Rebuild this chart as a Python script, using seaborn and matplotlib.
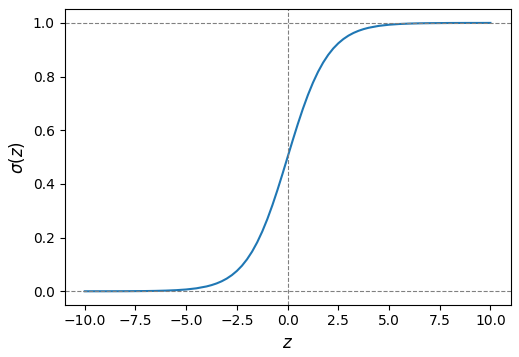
import matplotlib
matplotlib.use("Agg")
import matplotlib.pyplot as plt
import seaborn as sns
import pandas as pd

z_left = [-10.0, -9.5, -9.0, -8.5, -8.0, -7.5, -7.0, -6.5, -6.0, -5.5, -5.0, -4.5,
          -4.0, -3.75, -3.5, -3.25, -3.0, -2.75, -2.5, -2.25, -2.0, -1.75, -1.5,
          -1.25, -1.0, -0.75, -0.5, -0.25]
sig_left = [0.0000, 0.0001, 0.0001, 0.0002, 0.0003, 0.0006, 0.0009, 0.0015, 0.0025,
            0.0041, 0.0067, 0.0110, 0.0180, 0.0230, 0.0293, 0.0373, 0.0474, 0.0601,
            0.0759, 0.0953, 0.1192, 0.1480, 0.1824, 0.2227, 0.2689, 0.3208, 0.3775,
            0.4378]
z_mid = [0.0]
sig_mid = [0.5]
z_right = [0.25, 0.5, 0.75, 1.0, 1.25, 1.5, 1.75, 2.0, 2.25, 2.5, 2.75, 3.0, 3.25,
           3.5, 3.75, 4.0, 4.5, 5.0, 5.5, 6.0, 6.5, 7.0, 7.5, 8.0, 8.5, 9.0, 9.5, 10.0]
sig_right = [0.5622, 0.6225, 0.6792, 0.7311, 0.7773, 0.8176, 0.8520, 0.8808, 0.9047,
             0.9241, 0.9399, 0.9526, 0.9627, 0.9707, 0.9770, 0.9820, 0.9890, 0.9933,
             0.9959, 0.9975, 0.9985, 0.9991, 0.9994, 0.9997, 0.9998, 0.9999, 0.9999,
             1.0000]

df = pd.DataFrame({"z": z_left + z_mid + z_right,
                   "sigma": sig_left + sig_mid + sig_right})

fig = plt.figure(figsize=(5.19, 3.57), dpi=100)
ax = fig.add_axes([0.1243, 0.1465, 0.984 - 0.1243, 0.9734 - 0.1465])
sns.lineplot(data=df, x="z", y="sigma", ax=ax, color="#1f77b4", linewidth=1.5)
ax.axhline(0, color="gray", linestyle="--", linewidth=0.8)
ax.axhline(1, color="gray", linestyle="--", linewidth=0.8)
ax.axvline(0, color="gray", linestyle="--", linewidth=0.8)
ax.set_xlabel("$z$", fontsize=12)
ax.set_ylabel(r"$\sigma(z)$", fontsize=12)
ax.set_xticks([-10.0, -7.5, -5.0, -2.5, 0.0, 2.5, 5.0, 7.5, 10.0])
ax.set_yticks([0.0, 0.2, 0.4, 0.6, 0.8, 1.0])
fig.savefig("out.png", dpi=100)
